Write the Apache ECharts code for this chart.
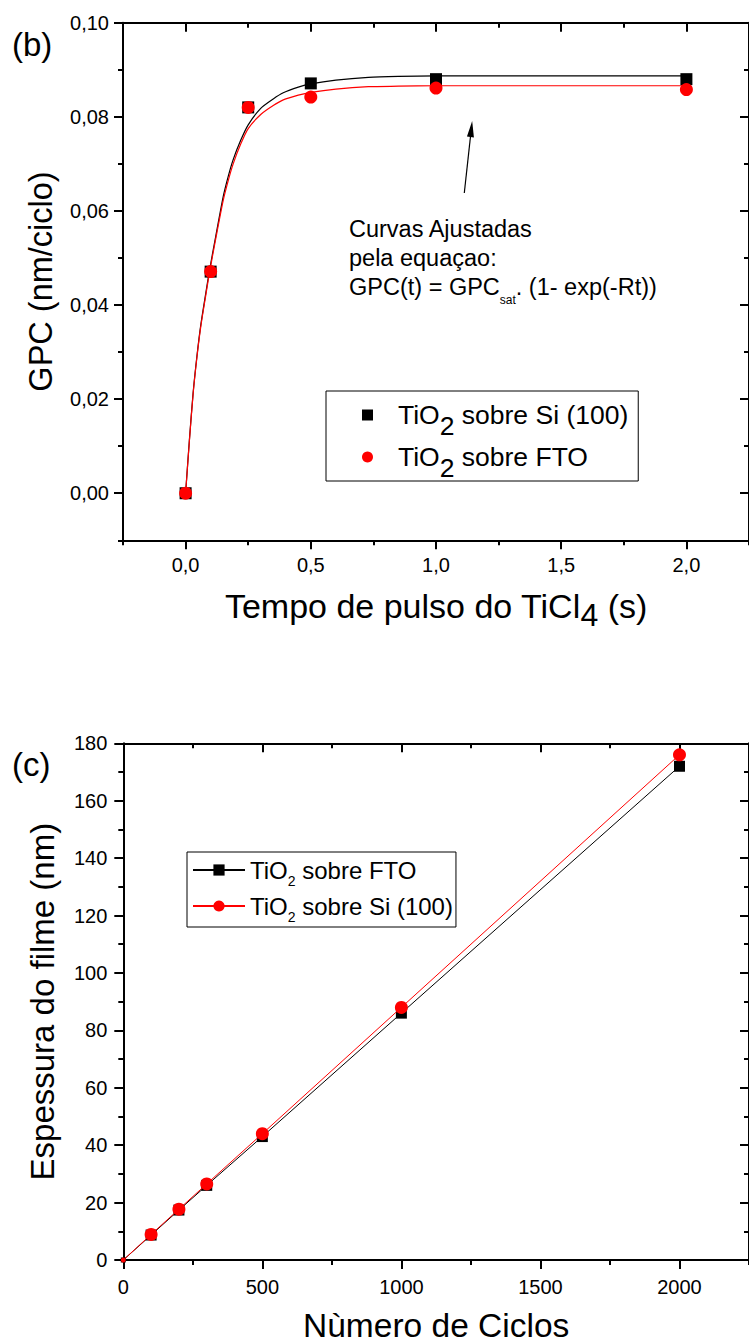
<!DOCTYPE html>
<html><head><meta charset="utf-8">
<script src="https://cdn.jsdelivr.net/npm/echarts@6/dist/echarts.min.js"></script>
<style>html,body{margin:0;padding:0;background:#fff}#c{width:749px;height:1343px}</style>
</head><body><div id="c"></div>
<script>
// ---------- (b) GPC vs TiCl4 pulse time ----------
const pulseTimes = [0, 0.1, 0.25, 0.5, 1.0, 2.0];
const gpcSi = [0, 0.0471, 0.0820, 0.0871, 0.0880, 0.0880];
const gpcFTO = [0, 0.0471, 0.0820, 0.0842, 0.0861, 0.0858];
// fitted curves
const fitTimes = [0, 0.015, 0.03, 0.045, 0.06, 0.08, 0.095, 0.12, 0.15, 0.17, 0.19, 0.22, 0.25, 0.3, 0.35, 0.39, 0.45, 0.5, 0.6, 0.73, 0.85, 1.0, 1.5, 2.0];
const fitSi = [0, 0.0112, 0.0213, 0.0290, 0.0355, 0.0423, 0.0472, 0.0545, 0.0630, 0.0673, 0.0709, 0.0750, 0.0783, 0.0818, 0.0838, 0.0851, 0.0863, 0.0870, 0.0878, 0.0884, 0.0886, 0.0887, 0.0887, 0.0887];
const fitFTO = [0, 0.0110, 0.0211, 0.0288, 0.0352, 0.0419, 0.0468, 0.0540, 0.0622, 0.0664, 0.0700, 0.0742, 0.0775, 0.0805, 0.0824, 0.0836, 0.0846, 0.0852, 0.0859, 0.0864, 0.0865, 0.0866, 0.0866, 0.0866];
const arrowFrom = [1.113, 0.0638];
const arrowTo = [1.141, 0.0774];
const xMajorB = [0, 0.5, 1.0, 1.5, 2.0];
const xMinorB = [-0.25, 0.25, 0.75, 1.25, 1.75, 2.25];
const yMajorB = [0, 0.02, 0.04, 0.06, 0.08, 0.10];
const yMinorB = [-0.01, 0.01, 0.03, 0.05, 0.07, 0.09];

// ---------- (c) thickness vs cycles ----------
const cycles = [0, 100, 200, 300, 500, 1000, 2000];
const thickFTO = [0, 8.7, 17.4, 26.0, 43.0, 86.0, 172.0];
const thickSi = [0, 8.9, 17.7, 26.5, 44.0, 88.0, 176.0];
const xMajorC = [0, 500, 1000, 1500, 2000];
const xMinorC = [250, 750, 1250, 1750, 2250];
const yMajorC = [0, 20, 40, 60, 80, 100, 120, 140, 160, 180];
const yMinorC = [10, 30, 50, 70, 90, 110, 130, 150, 170];

const FONT = 'Arial';
const BLACK = '#000000', RED = '#ff0000';

function mkAxis(grid, pos, min, max, values, len, inward, showLine, extra) {
  return Object.assign({
    type: 'value', gridIndex: grid, position: pos, min: min, max: max,
    axisLine: { show: showLine, onZero: false, lineStyle: { color: BLACK, width: 2 } },
    axisTick: { show: true, inside: inward, length: len, customValues: values, lineStyle: { color: BLACK, width: 2 } },
    axisLabel: { show: false },
    splitLine: { show: false }
  }, extra || {});
}
function lbl(values, fmt, margin) {
  return { show: true, customValues: values, formatter: fmt, margin: margin,
    fontSize: 20, color: BLACK, fontFamily: FONT };
}
const fmtB_y = v => v.toFixed(2).replace('.', ',');
const fmtB_x = v => v.toFixed(1).replace('.', ',');
const fmtC = v => String(Math.round(v));

const xAxes = [
  mkAxis(0, 'bottom', -0.25, 2.25, xMajorB, 9, false, true, {
    axisLabel: lbl(xMajorB, fmtB_x, 15),
    name: '{m|Tempo de pulso do TiCl}{s|4}{m| (s)}', nameLocation: 'middle', nameGap: 46,
    nameTextStyle: { color: BLACK, fontFamily: FONT, fontSize: 34,
      rich: { m: { fontSize: 34, fontFamily: FONT, color: BLACK, lineHeight: 40 },
              s: { fontSize: 32, fontFamily: FONT, color: BLACK, lineHeight: 40, padding: [18, 0, 0, 0] } } }
  }),
  mkAxis(0, 'bottom', -0.25, 2.25, xMinorB, 5, false, false),
  mkAxis(0, 'top', -0.25, 2.25, xMajorB, 9, true, true),
  mkAxis(0, 'top', -0.25, 2.25, xMinorB, 5, true, false),
  mkAxis(1, 'bottom', 0, 2250, xMajorC, 9, false, true, {
    axisLabel: lbl(xMajorC, fmtC, 17),
    name: 'Nùmero de Ciclos', nameLocation: 'middle', nameGap: 48,
    nameTextStyle: { color: BLACK, fontFamily: FONT, fontSize: 33.5 }
  }),
  mkAxis(1, 'bottom', 0, 2250, xMinorC, 5, false, false),
  mkAxis(1, 'top', 0, 2250, xMajorC, 9, true, true),
  mkAxis(1, 'top', 0, 2250, xMinorC, 5, true, false)
];
const yAxes = [
  mkAxis(0, 'left', -0.01, 0.10, yMajorB, 9, false, true, {
    axisLabel: lbl(yMajorB, fmtB_y, 14),
    name: 'GPC (nm/ciclo)', nameLocation: 'middle', nameGap: 66,
    nameTextStyle: { color: BLACK, fontFamily: FONT, fontSize: 32.5 }
  }),
  mkAxis(0, 'left', -0.01, 0.10, yMinorB, 5, false, false),
  mkAxis(0, 'right', -0.01, 0.10, yMajorB, 9, true, true),
  mkAxis(0, 'right', -0.01, 0.10, yMinorB, 5, true, false),
  mkAxis(1, 'left', 0, 180, yMajorC, 9, false, true, {
    axisLabel: lbl(yMajorC, fmtC, 16),
    name: 'Espessura do filme (nm)', nameLocation: 'middle', nameGap: 64,
    nameTextStyle: { color: BLACK, fontFamily: FONT, fontSize: 33 }
  }),
  mkAxis(1, 'left', 0, 180, yMinorC, 5, false, false),
  mkAxis(1, 'right', 0, 180, yMajorC, 9, true, true),
  mkAxis(1, 'right', 0, 180, yMinorC, 5, true, false)
];

const pairs = (xs, ys) => xs.map((x, i) => [x, ys[i]]);

const legendText = {
  bSi: '{f|TiO}{s|2}{m| sobre Si (100)}',
  bFTO: '{f|TiO}{s|2}{m| sobre FTO}',
  cFTO: '{m|TiO}{s|2}{m| sobre FTO}',
  cSi: '{m|TiO}{s|2}{m| sobre Si (100)}'
};
const solid = (c) => ({ color: c, opacity: 1 });

const series = [
  { type: 'line', name: 'fitSi', xAxisIndex: 0, yAxisIndex: 0, data: pairs(fitTimes, fitSi),
    smooth: 0.25, symbol: 'none', silent: true,
    lineStyle: { color: BLACK, width: 1.2 }, itemStyle: solid(BLACK), z: 2,
    markLine: { silent: true, symbol: ['none', 'triangle'], symbolSize: [7, 16], label: { show: false },
      lineStyle: { color: BLACK, width: 1.2, type: 'solid' },
      data: [[{ coord: arrowFrom }, { coord: arrowTo }]] } },
  { type: 'line', name: 'fitFTO', xAxisIndex: 0, yAxisIndex: 0, data: pairs(fitTimes, fitFTO),
    smooth: 0.25, symbol: 'none', silent: true,
    lineStyle: { color: RED, width: 1.2 }, itemStyle: solid(RED), z: 2 },
  { type: 'scatter', name: 'bSi', xAxisIndex: 0, yAxisIndex: 0, data: pairs(pulseTimes, gpcSi),
    symbol: 'rect', symbolSize: 12, itemStyle: solid(BLACK), z: 3 },
  { type: 'scatter', name: 'bFTO', xAxisIndex: 0, yAxisIndex: 0, data: pairs(pulseTimes, gpcFTO),
    symbol: 'circle', symbolSize: 13, itemStyle: solid(RED), z: 4 },
  { type: 'line', name: 'cFTO', xAxisIndex: 4, yAxisIndex: 4, data: pairs(cycles, thickFTO),
    symbol: 'rect', symbolSize: (v) => v[0] === 0 ? 5 : 11, showAllSymbol: true,
    lineStyle: { color: BLACK, width: 1 }, itemStyle: solid(BLACK), z: 3 },
  { type: 'line', name: 'cSi', xAxisIndex: 4, yAxisIndex: 4, data: pairs(cycles, thickSi),
    symbol: 'circle', symbolSize: (v) => v[0] === 0 ? 5 : 13, showAllSymbol: true,
    lineStyle: { color: RED, width: 1 }, itemStyle: solid(RED), z: 4 }
];

const legendB = {
  data: [{ name: 'bSi', icon: 'rect' }, { name: 'bFTO', icon: 'circle' }],
  left: 326, top: 391, orient: 'vertical', padding: [0, 10, 0, 36],
  itemWidth: 11, itemHeight: 11, itemGap: -6,
  borderColor: BLACK, borderWidth: 1, borderRadius: 0, backgroundColor: '#fff',
  selectedMode: false, formatter: n => legendText[n],
  textStyle: { color: BLACK, fontFamily: FONT, fontSize: 26.5,
    rich: { f: { fontSize: 26.5, fontFamily: FONT, color: BLACK, lineHeight: 40, padding: [0, 0, 0, 20] },
            m: { fontSize: 26.5, fontFamily: FONT, color: BLACK, lineHeight: 40 },
            s: { fontSize: 26.5, fontFamily: FONT, color: BLACK, lineHeight: 40, padding: [21, 0, 0, 0] } } }
};
const legendC = {
  data: ['cFTO', 'cSi'],
  left: 187, top: 852, orient: 'vertical', padding: [0, 3, 3, 5],
  itemWidth: 52, itemHeight: 14, itemGap: 0,
  borderColor: BLACK, borderWidth: 1, borderRadius: 0, backgroundColor: '#fff',
  selectedMode: false, formatter: n => legendText[n],
  textStyle: { color: BLACK, fontFamily: FONT, fontSize: 24,
    rich: { m: { fontSize: 24, fontFamily: FONT, color: BLACK, lineHeight: 30 },
            s: { fontSize: 14, fontFamily: FONT, color: BLACK, lineHeight: 30, padding: [22, 0, 0, 0] } } }
};

const graphic = [
  { type: 'text', x: 12, y: 44, style: { text: '(b)', fontSize: 33, fontFamily: FONT, fill: BLACK, verticalAlign: 'middle' } },
  { type: 'text', x: 12, y: 764, style: { text: '(c)', fontSize: 33, fontFamily: FONT, fill: BLACK, verticalAlign: 'middle' } },
  { type: 'text', x: 349, y: 229, style: { text: 'Curvas Ajustadas', fontSize: 23.5, fontFamily: FONT, fill: BLACK, verticalAlign: 'middle' } },
  { type: 'text', x: 349, y: 258, style: { text: 'pela equaçao:', fontSize: 23.5, fontFamily: FONT, fill: BLACK, verticalAlign: 'middle' } },
  { type: 'text', x: 349, y: 287, style: {
      text: '{m|GPC(t) = GPC}{s|sat}{m|. (1- exp(-Rt))}', fontSize: 23.5, fontFamily: FONT, fill: BLACK, verticalAlign: 'middle',
      rich: { m: { fontSize: 23.5, fontFamily: FONT, fill: BLACK, lineHeight: 28 },
              s: { fontSize: 12, fontFamily: FONT, fill: BLACK, lineHeight: 28, padding: [26, 0, 0, 0] } } } }
];

const chart = echarts.init(document.getElementById('c'), null, { renderer: 'svg', width: 749, height: 1343 });
chart.setOption({
  backgroundColor: '#ffffff',
  animation: false,
  grid: [
    { left: 123, top: 22.7, width: 631, height: 517.6 },
    { left: 123.3, top: 743.3, width: 632.7, height: 517.2 }
  ],
  xAxis: xAxes,
  yAxis: yAxes,
  legend: [legendB, legendC],
  graphic: graphic,
  series: series
});
</script></body></html>
